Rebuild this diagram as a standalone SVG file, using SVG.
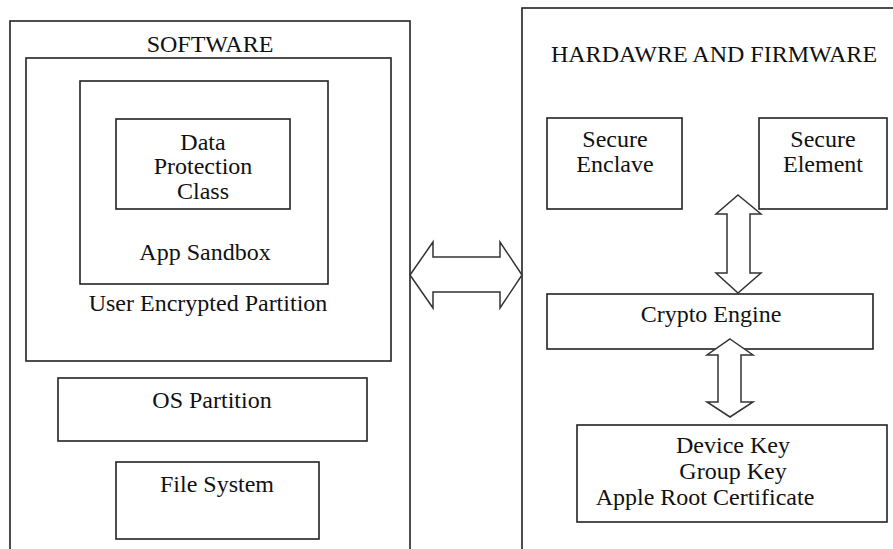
<svg xmlns="http://www.w3.org/2000/svg" width="893" height="549" viewBox="0 0 893 549">
<style>
.box{fill:none;stroke:#222;stroke-width:1.6}
.arr{fill:#fff;stroke:#333;stroke-width:1.5;stroke-linejoin:miter}
text{font-family:"Liberation Serif","Times New Roman",serif;font-size:24px;fill:#111;text-anchor:middle}
</style>
<rect width="893" height="549" fill="#fff"/>
<g id="software">
<rect class="box" x="10" y="21" width="400" height="540"/>
<text x="210" y="52">SOFTWARE</text>
</g>
<g id="user-encrypted-partition">
<rect class="box" x="26" y="58" width="365" height="303"/>
<text x="208" y="311">User Encrypted Partition</text>
</g>
<g id="app-sandbox">
<rect class="box" x="80" y="81" width="248" height="203"/>
<text x="205" y="260">App Sandbox</text>
</g>
<g id="data-protection-class">
<rect class="box" x="116" y="119" width="174" height="90"/>
<text x="203" y="150">Data</text>
<text x="203" y="174">Protection</text>
<text x="203" y="199">Class</text>
</g>
<g id="os-partition">
<rect class="box" x="58" y="378" width="309" height="63"/>
<text x="212" y="408">OS Partition</text>
</g>
<g id="file-system">
<rect class="box" x="116" y="462" width="203" height="77"/>
<text x="217" y="492">File System</text>
</g>
<g id="hardware-firmware">
<rect class="box" x="522" y="8" width="400" height="560"/>
<text x="714" y="62">HARDAWRE AND FIRMWARE</text>
</g>
<g id="secure-enclave">
<rect class="box" x="547" y="118" width="135" height="91"/>
<text x="615" y="147">Secure</text>
<text x="615" y="172">Enclave</text>
</g>
<g id="secure-element">
<rect class="box" x="759" y="118" width="128" height="91"/>
<text x="823" y="147">Secure</text>
<text x="823" y="172">Element</text>
</g>
<g id="crypto-engine">
<rect class="box" x="547" y="294" width="326" height="55"/>
<text x="711" y="322">Crypto Engine</text>
</g>
<g id="keys">
<rect class="box" x="577" y="425" width="310" height="97"/>
<text x="733" y="453">Device Key</text>
<text x="733" y="479">Group Key</text>
<text x="705" y="505">Apple Root Certificate</text>
</g>
<g id="connectors">
<path class="arr" d="M410,275 L433,242 L433,257 L500,257 L500,242 L522,275 L500,308 L500,292 L433,292 L433,308 Z"/>
<path class="arr" d="M738,195 L761,214 L750,214 L750,273 L761,273 L738,293 L716,273 L727,273 L727,214 L716,214 Z"/>
<path class="arr" d="M730,339 L753,355 L741,355 L741,402 L753,402 L730,417 L707,402 L718,402 L718,355 L707,355 Z"/>
</g>
</svg>
